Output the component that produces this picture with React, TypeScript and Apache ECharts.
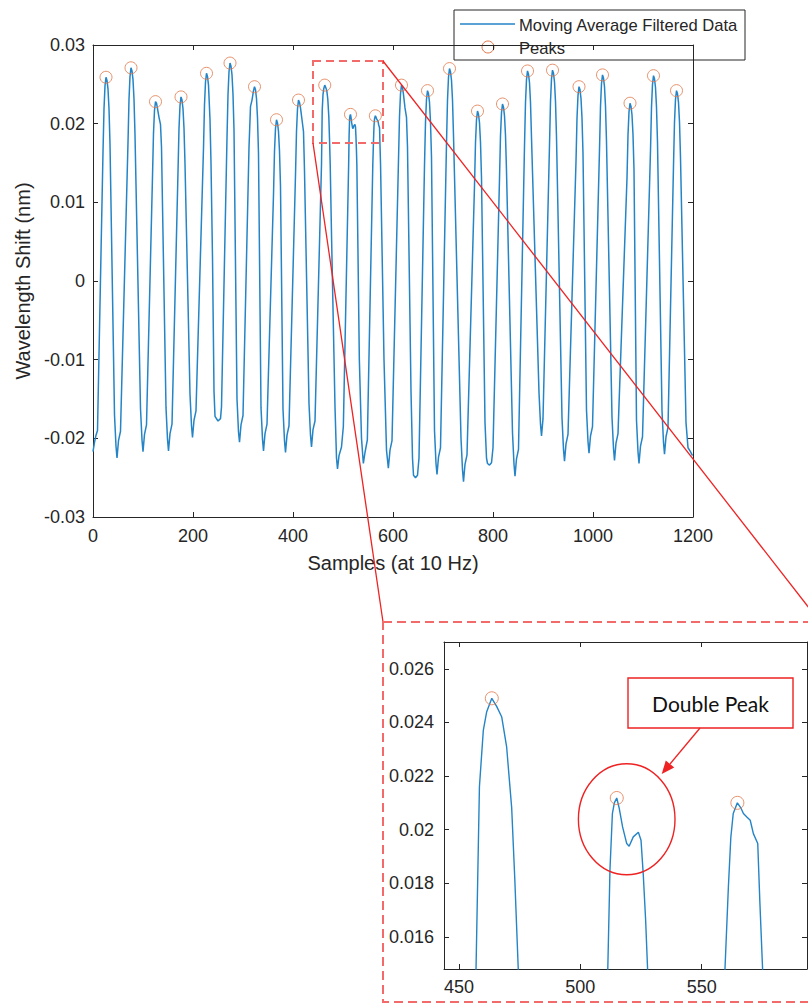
import { useEffect, useRef } from "react";
import * as echarts from "echarts";

// ---- data ----
const seriesNames = ["Moving Average Filtered Data", "Peaks"];

const sampleX = [
  0, 3, 6, 9, 20, 22, 24, 26, 28, 30, 32, 34, 43, 46, 48, 51, 55, 70, 72, 74, 76, 78, 80, 82, 84, 95, 98, 100,
  103, 107, 119, 121, 123, 125, 127, 129, 132, 135, 137, 146, 149, 151, 154, 158, 170, 172, 174, 176, 178, 180,
  182, 184, 194, 197, 199, 202, 206, 221, 223, 225, 227, 229, 231, 234, 236, 239, 242, 244, 250, 255, 257, 268,
  270, 272, 274, 276, 278, 280, 282, 288, 291, 293, 296, 300, 312, 315, 318, 321, 323, 325, 327, 329, 331, 336,
  339, 341, 344, 348, 361, 363, 365, 367, 369, 371, 373, 375, 380, 383, 385, 388, 392, 405, 407, 409, 411, 413,
  415, 418, 421, 423, 432, 435, 437, 440, 444, 457, 458.4, 460, 461.4, 463.5, 465.5, 467.6, 469.6, 471.7, 473,
  474.4, 477, 484, 487, 489, 492, 497, 500.7, 511.3, 512.2, 513.2, 514, 515, 516, 517.4, 519.1, 520.1, 521.8,
  523.9, 525, 525.9, 526.9, 527.7, 532.7, 537, 540.7, 544, 548.7, 559.6, 561, 562, 563, 564.7, 566.2, 567.2,
  568.6, 570, 571.3, 573.1, 574, 575.1, 582, 587, 590.7, 594, 598, 611, 613, 615, 617, 619, 621, 624, 627, 629,
  636, 639, 641, 645, 649, 652, 663, 665, 667, 669, 671, 673, 675, 677, 683, 686, 688, 691, 695, 707, 709, 711,
  713, 715, 717, 719, 721, 736, 739, 741, 744, 748, 763, 765, 767, 769, 771, 773, 775, 777, 784, 787, 789, 793,
  797, 800, 813, 815, 817, 819, 821, 823, 825, 827, 839, 842, 844, 847, 851, 863, 865, 867, 869, 871, 873, 875,
  877, 892, 895, 897, 900, 913, 915, 917, 919, 921, 923, 925, 927, 938, 941, 943, 946, 950, 966, 968, 970, 972,
  974, 976, 978, 980, 987, 990, 992, 995, 999, 1013, 1015, 1017, 1019, 1021, 1023, 1025, 1027, 1038, 1041, 1043,
  1046, 1050, 1068, 1070, 1072, 1074, 1076, 1078, 1080, 1082, 1087, 1090, 1092, 1095, 1099, 1115, 1117, 1119,
  1121, 1123, 1125, 1127, 1129, 1138, 1141, 1143, 1146, 1150, 1161, 1163, 1165, 1167, 1169, 1171, 1173, 1175,
  1186, 1190, 1194, 1199,
];

const shiftY = [
  -0.0217, -0.0205, -0.0196, -0.019, 0.0164, 0.0219, 0.0248, 0.0259, 0.0255, 0.0244, 0.0219, 0.0174, -0.017,
  -0.021, -0.0225, -0.0203, -0.0191, 0.0176, 0.0231, 0.026, 0.0271, 0.0267, 0.0256, 0.0231, 0.0186, -0.0162,
  -0.0202, -0.0217, -0.0195, -0.0183, 0.0133, 0.0188, 0.0217, 0.0228, 0.0226, 0.0219, 0.0208, 0.0199, 0.017,
  -0.0161, -0.0201, -0.0216, -0.0194, -0.0182, 0.0139, 0.0194, 0.0223, 0.0234, 0.023, 0.0219, 0.0194, 0.0149,
  -0.0144, -0.0184, -0.0199, -0.0177, -0.0165, 0.0169, 0.0224, 0.0253, 0.0264, 0.026, 0.0249, 0.0205, 0.015,
  0.003, -0.014, -0.0172, -0.0178, -0.0175, -0.016, 0.0182, 0.0237, 0.0266, 0.0277, 0.0273, 0.0262, 0.0237,
  0.0192, -0.015, -0.0192, -0.0205, -0.0183, -0.0171, 0.017, 0.0222, 0.023, 0.0242, 0.0247, 0.0243, 0.0232,
  0.0207, 0.0162, -0.0161, -0.0201, -0.0216, -0.0194, -0.0182, 0.011, 0.0165, 0.0194, 0.0205, 0.0201, 0.019,
  0.0165, 0.012, -0.0163, -0.0203, -0.0218, -0.0196, -0.0184, 0.0135, 0.019, 0.0219, 0.023, 0.0227, 0.022,
  0.0205, 0.019, 0.014, -0.0156, -0.0196, -0.0211, -0.0189, -0.0178, 0.0148, 0.0216, 0.0237, 0.0244, 0.0249,
  0.0246, 0.0242, 0.0231, 0.0208, 0.0181, 0.0148, 0.006, -0.016, -0.0225, -0.0239, -0.0222, -0.0211, -0.0185,
  0.0148, 0.0185, 0.0206, 0.021, 0.02118, 0.0208, 0.0201, 0.01948, 0.01938, 0.01973, 0.0199, 0.0196, 0.01836,
  0.01662, 0.0148, -0.01, -0.02, -0.0232, -0.0218, -0.0202, 0.0148, 0.01786, 0.0197, 0.0206, 0.021, 0.0208,
  0.0206, 0.02047, 0.02035, 0.01985, 0.01948, 0.01724, 0.0148, -0.01, -0.0215, -0.0238, -0.0215, -0.0203,
  0.0154, 0.0209, 0.0238, 0.0249, 0.0246, 0.0237, 0.022, 0.0208, 0.017, -0.014, -0.0225, -0.0247, -0.025,
  -0.0247, -0.0225, 0.0147, 0.0202, 0.0231, 0.0242, 0.0238, 0.0227, 0.0202, 0.0157, -0.019, -0.0232, -0.0246,
  -0.0224, -0.0212, 0.0175, 0.023, 0.0259, 0.027, 0.0266, 0.0255, 0.023, 0.0185, -0.02, -0.024, -0.0255,
  -0.0233, -0.0221, 0.0121, 0.0176, 0.0205, 0.0216, 0.0212, 0.0201, 0.0176, 0.0131, -0.018, -0.0225, -0.0232,
  -0.0234, -0.0231, -0.0212, 0.013, 0.0185, 0.0214, 0.0225, 0.0221, 0.021, 0.0185, 0.014, -0.0193, -0.0233,
  -0.0248, -0.0226, -0.0214, 0.0172, 0.0227, 0.0256, 0.0267, 0.0263, 0.0252, 0.0227, 0.0182, -0.0142, -0.0182,
  -0.0197, -0.0175, 0.0173, 0.0228, 0.0257, 0.0268, 0.0264, 0.0253, 0.0228, 0.0183, -0.0174, -0.0214, -0.0229,
  -0.0207, -0.0195, 0.0152, 0.0207, 0.0236, 0.0247, 0.0243, 0.0232, 0.0207, 0.0162, -0.0164, -0.0204, -0.0219,
  -0.0197, -0.0185, 0.0167, 0.0222, 0.0251, 0.0262, 0.0258, 0.0247, 0.0222, 0.0177, -0.0173, -0.0213, -0.0228,
  -0.0206, -0.0194, 0.0131, 0.0186, 0.0215, 0.0226, 0.0222, 0.0211, 0.0186, 0.0141, -0.0177, -0.0217, -0.0232,
  -0.021, -0.0198, 0.0166, 0.0221, 0.025, 0.0261, 0.0257, 0.0246, 0.0221, 0.0176, -0.0165, -0.0205, -0.022,
  -0.0198, -0.0186, 0.0147, 0.0202, 0.0231, 0.0242, 0.0238, 0.0227, 0.0202, 0.0157, -0.018, -0.0212, -0.0216,
  -0.0222,
];

const peakX = [26, 76, 125, 176, 227, 274, 323, 367, 411, 463.5, 515, 564.7, 617, 669, 713, 769, 819, 869, 919, 972, 1019, 1074, 1121, 1167];
const peakY = [
  0.0259, 0.0271, 0.0228, 0.0234, 0.0264, 0.0277, 0.0247, 0.0205, 0.023, 0.0249, 0.02118, 0.021, 0.0249, 0.0242,
  0.027, 0.0216, 0.0225, 0.0267, 0.0268, 0.0247, 0.0262, 0.0226, 0.0261, 0.0242,
];

const mainXRange = [0, 1200];
const mainYRange = [-0.03, 0.03];
const insetXRange = [443.8, 593.4];
const insetYRange = [0.0148, 0.027];
const insetXTicks = [450, 500, 550];
const insetYTicks = [0.016, 0.018, 0.02, 0.022, 0.024, 0.026];
const annotationText = "Double Peak";

// ---- styles ----
const FONT = '"Liberation Sans", Arial, Helvetica, sans-serif';
const AX = "#262626";
const BLUE = "#2484c6";
const ORANGE = "#e0784a";
const RED = "#ee2222";
const DASH_RED = "#f26a6a";

const plain = (v: number) => String(v);

export default function App() {
  const ref = useRef<HTMLDivElement>(null);

  useEffect(() => {
    const chart = echarts.init(ref.current!, null, { renderer: "svg" });
    const trace = sampleX.map((x, i) => [x, shiftY[i]]);
    const peaks = peakX.map((x, i) => [x, peakY[i]]);

    const axisLine = { show: true, onZero: false, lineStyle: { color: AX, width: 1 } };
    const tick = { show: true, inside: true, length: 5, lineStyle: { color: AX, width: 1 } };
    const label = { fontSize: 18, color: AX, fontFamily: FONT, formatter: plain };
    const noSplit = { show: false };

    // arrow geometry for the callout
    const ax0 = 700, ay0 = 728, ax1 = 661.7, ay1 = 774;
    const len = Math.hypot(ax1 - ax0, ay1 - ay0);
    const dx = (ax1 - ax0) / len, dy = (ay1 - ay0) / len;
    const hb = 13, hw = 5.5;
    const bx = ax1 - dx * hb, by = ay1 - dy * hb;

    chart.setOption({
      animation: false,
      backgroundColor: "#ffffff",
      grid: [
        { left: 93, top: 45, width: 600, height: 472, outerBoundsMode: "none" },
        { left: 444, top: 642, width: 363, height: 327, outerBoundsMode: "none" },
      ],
      xAxis: [
        {
          gridIndex: 0, type: "value", position: "bottom", min: mainXRange[0], max: mainXRange[1], interval: 200,
          axisLine, axisTick: tick, splitLine: noSplit,
          axisLabel: { ...label, margin: 10 },
          name: "Samples (at 10 Hz)", nameLocation: "middle", nameGap: 36,
          nameTextStyle: { fontSize: 20, color: AX, fontFamily: FONT },
        },
        {
          gridIndex: 0, type: "value", position: "top", min: mainXRange[0], max: mainXRange[1], interval: 200,
          axisLine, axisTick: tick, splitLine: noSplit, axisLabel: { show: false },
        },
        {
          gridIndex: 1, type: "value", position: "bottom", min: insetXRange[0], max: insetXRange[1],
          axisLine, axisTick: { ...tick, customValues: insetXTicks }, splitLine: noSplit,
          axisLabel: { ...label, margin: 9, customValues: insetXTicks },
        },
        {
          gridIndex: 1, type: "value", position: "top", min: insetXRange[0], max: insetXRange[1],
          axisLine, axisTick: { ...tick, customValues: insetXTicks }, splitLine: noSplit, axisLabel: { show: false },
        },
      ],
      yAxis: [
        {
          gridIndex: 0, type: "value", position: "left", min: mainYRange[0], max: mainYRange[1], interval: 0.01,
          axisLine, axisTick: tick, splitLine: noSplit,
          axisLabel: { ...label, margin: 8 },
          name: "Wavelength Shift (nm)", nameLocation: "middle", nameGap: 58,
          nameTextStyle: { fontSize: 20, color: AX, fontFamily: FONT },
        },
        {
          gridIndex: 0, type: "value", position: "right", min: mainYRange[0], max: mainYRange[1], interval: 0.01,
          axisLine, axisTick: tick, splitLine: noSplit, axisLabel: { show: false },
        },
        {
          gridIndex: 1, type: "value", position: "left", min: insetYRange[0], max: insetYRange[1],
          axisLine, axisTick: { ...tick, customValues: insetYTicks }, splitLine: noSplit,
          axisLabel: { ...label, margin: 10, customValues: insetYTicks },
        },
        {
          gridIndex: 1, type: "value", position: "right", min: insetYRange[0], max: insetYRange[1],
          axisLine, axisTick: { ...tick, customValues: insetYTicks }, splitLine: noSplit, axisLabel: { show: false },
        },
      ],
      series: [
        {
          type: "line", name: seriesNames[0], xAxisIndex: 0, yAxisIndex: 0, data: trace,
          showSymbol: false, symbol: "none", clip: true, z: 2,
          lineStyle: { color: BLUE, width: 1.5 },
        },
        {
          type: "scatter", name: seriesNames[1], xAxisIndex: 0, yAxisIndex: 0, data: peaks,
          symbol: "circle", symbolSize: 12, clip: true, z: 3,
          itemStyle: { color: "rgba(0,0,0,0)", borderColor: ORANGE, borderWidth: 1 },
        },
        {
          type: "line", name: seriesNames[0] + " (zoom)", xAxisIndex: 2, yAxisIndex: 2, data: trace,
          showSymbol: false, symbol: "none", clip: true, z: 2,
          lineStyle: { color: BLUE, width: 1.4 },
        },
        {
          type: "scatter", name: seriesNames[1] + " (zoom)", xAxisIndex: 2, yAxisIndex: 2, data: peaks,
          symbol: "circle", symbolSize: 13, clip: true, z: 3,
          itemStyle: { color: "rgba(0,0,0,0)", borderColor: ORANGE, borderWidth: 1 },
        },
      ],
      graphic: {
        elements: [
          // legend
          {
            type: "group", z: 50, silent: true,
            children: [
              { type: "rect", shape: { x: 454, y: 10, width: 291, height: 50 }, style: { fill: "#fff", stroke: AX, lineWidth: 1 } },
              { type: "line", shape: { x1: 460, y1: 24, x2: 515, y2: 24 }, style: { stroke: BLUE, lineWidth: 1.6 } },
              { type: "text", x: 519, y: 25.5, style: { text: seriesNames[0], fontSize: 16.6, fontFamily: FONT, fill: AX, align: "left", verticalAlign: "middle" } },
              { type: "circle", shape: { cx: 488, cy: 47, r: 6 }, style: { fill: "none", stroke: ORANGE, lineWidth: 1 } },
              { type: "text", x: 519, y: 48, style: { text: seriesNames[1], fontSize: 16.6, fontFamily: FONT, fill: AX, align: "left", verticalAlign: "middle" } },
            ],
          },
          // zoom box on main chart
          { type: "rect", z: 40, silent: true, shape: { x: 313, y: 61, width: 70, height: 82 }, style: { fill: "none", stroke: DASH_RED, lineWidth: 2, lineDash: [8, 5] } },
          { type: "line", z: 40, silent: true, shape: { x1: 313, y1: 143, x2: 383, y2: 622 }, style: { stroke: RED, lineWidth: 1.3 } },
          { type: "line", z: 40, silent: true, shape: { x1: 383, y1: 61, x2: 820, y2: 622 }, style: { stroke: RED, lineWidth: 1.3 } },
          // inset frame
          { type: "rect", z: 40, silent: true, shape: { x: 383, y: 622, width: 450, height: 380 }, style: { fill: "none", stroke: DASH_RED, lineWidth: 2, lineDash: [9, 5] } },
          // callout
          { type: "ellipse", z: 40, silent: true, shape: { cx: 626.7, cy: 819.3, rx: 48.3, ry: 55.5 }, style: { fill: "none", stroke: RED, lineWidth: 1.4 } },
          { type: "rect", z: 40, silent: true, shape: { x: 628, y: 678, width: 165, height: 50 }, style: { fill: "#fff", stroke: RED, lineWidth: 1.4 } },
          { type: "text", z: 41, silent: true, x: 710.5, y: 703, style: { text: annotationText, fontSize: 21, fontFamily: "Lato, 'Open Sans', sans-serif", fill: "#111", align: "center", verticalAlign: "middle" } },
          { type: "line", z: 40, silent: true, shape: { x1: ax0, y1: ay0, x2: bx, y2: by }, style: { stroke: RED, lineWidth: 1.3 } },
          {
            type: "polygon", z: 40, silent: true,
            shape: { points: [[ax1, ay1], [bx - dy * hw, by + dx * hw], [bx + dy * hw, by - dx * hw]] },
            style: { fill: RED },
          },
        ],
      },
    });

    return () => chart.dispose();
  }, []);

  return (
    <div
      ref={ref}
      style={{ position: "absolute", left: 0, top: 0, width: 808, height: 1006, background: "#fff", overflow: "hidden" }}
    />
  );
}
